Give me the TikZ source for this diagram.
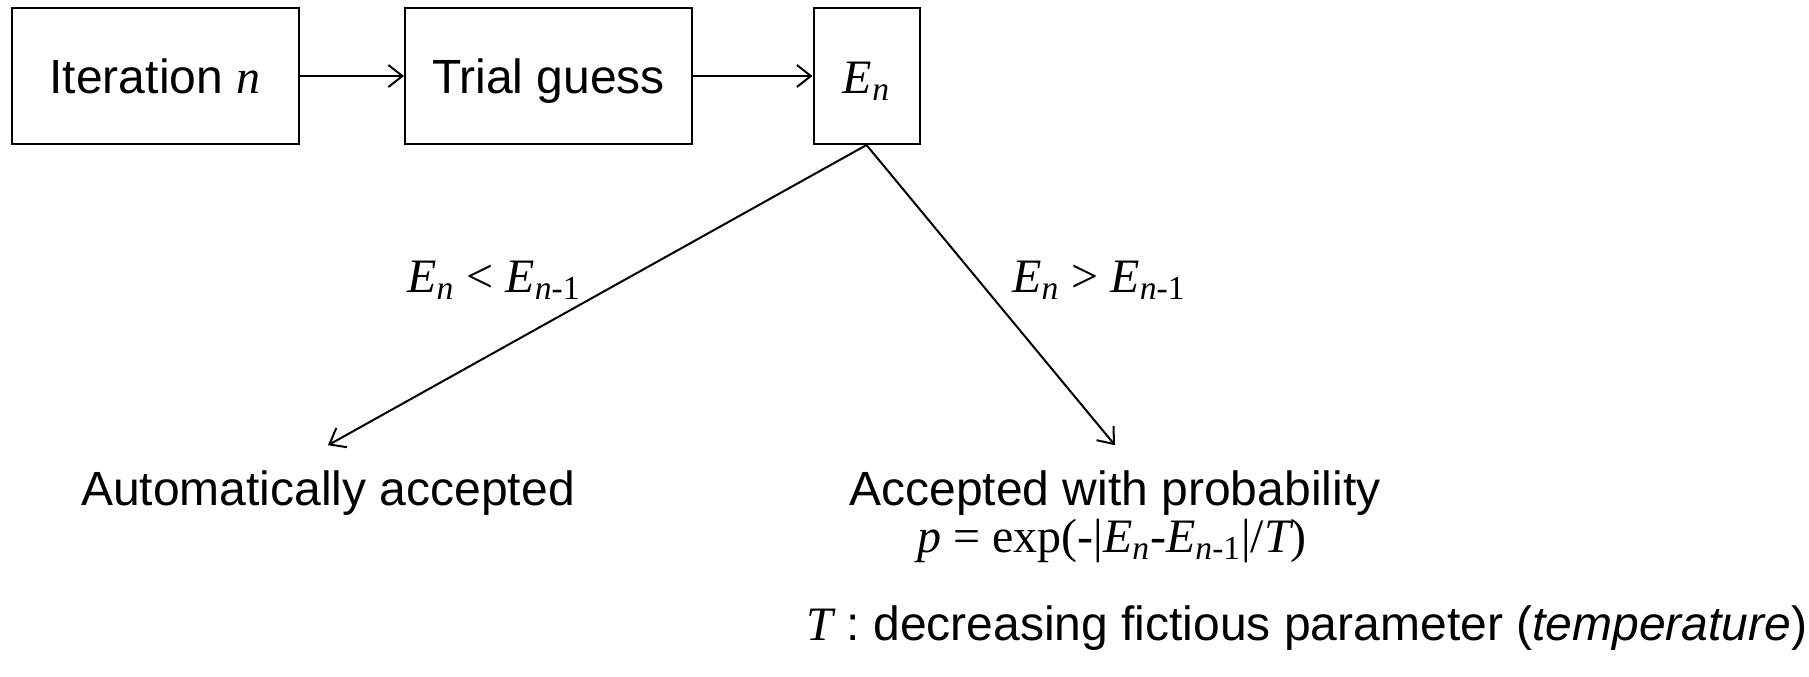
\documentclass[tikz,border=0pt]{standalone}
\usepackage{fontspec}
\setmainfont{Liberation Sans}
\newfontfamily\tmsfont{Liberation Serif}
\usetikzlibrary{arrows.meta}
\newcommand{\iv}[1]{{\tmsfont\itshape #1}}
\newcommand{\En}{\iv{E}\textsubscript{\iv{n}}}
\newcommand{\Enm}{\iv{E}\textsubscript{\iv{n}{\tmsfont -1}}}
\begin{document}
\begin{tikzpicture}[x=0.5pt,y=-0.5pt,>={Straight Barb[length=7pt,width=11pt]},line width=1pt,
	font=\fontsize{24}{28}\selectfont,
	stepbox/.style={draw,minimum height=68pt,inner sep=0pt,text height=17.5pt,text depth=0pt},
	txt/.style={anchor=base,inner sep=0pt}]
	\useasboundingbox (0,0) rectangle (1809,676);
	\node[stepbox,minimum width=143.5pt] (iter) at (155,76) {Iteration \iv{n}};
	\node[stepbox,minimum width=143.5pt] (trial) at (548.5,76) {Trial guess};
	\node[stepbox,minimum width=53pt] (en) at (866.5,76) {\En};
	\node[txt] (auto) at (328,505) {Automatically accepted};
	\node[txt] (accp) at (1115,505) {Accepted with probability};
	\node[txt] (prob) at (1112,552) {\tmsfont\iv{p} = exp(-|\En-\Enm|/\iv{T})};
	\node[txt] (temp) at (1307,640) {\iv{T} : decreasing fictious parameter (\textit{temperature})};
	\node[txt] (less) at (494,292) {\tmsfont\En{} < \Enm};
	\node[txt] (more) at (1099,292) {\tmsfont\En{} > \Enm};
	\draw[->] (iter) -- (trial);
	\draw[->] (trial) -- (en);
	\draw[->] (en.south) -- ([yshift=12pt]auto.north);
	\draw[->] (en.south) -- ([yshift=12pt]accp.north);
\end{tikzpicture}
\end{document}
